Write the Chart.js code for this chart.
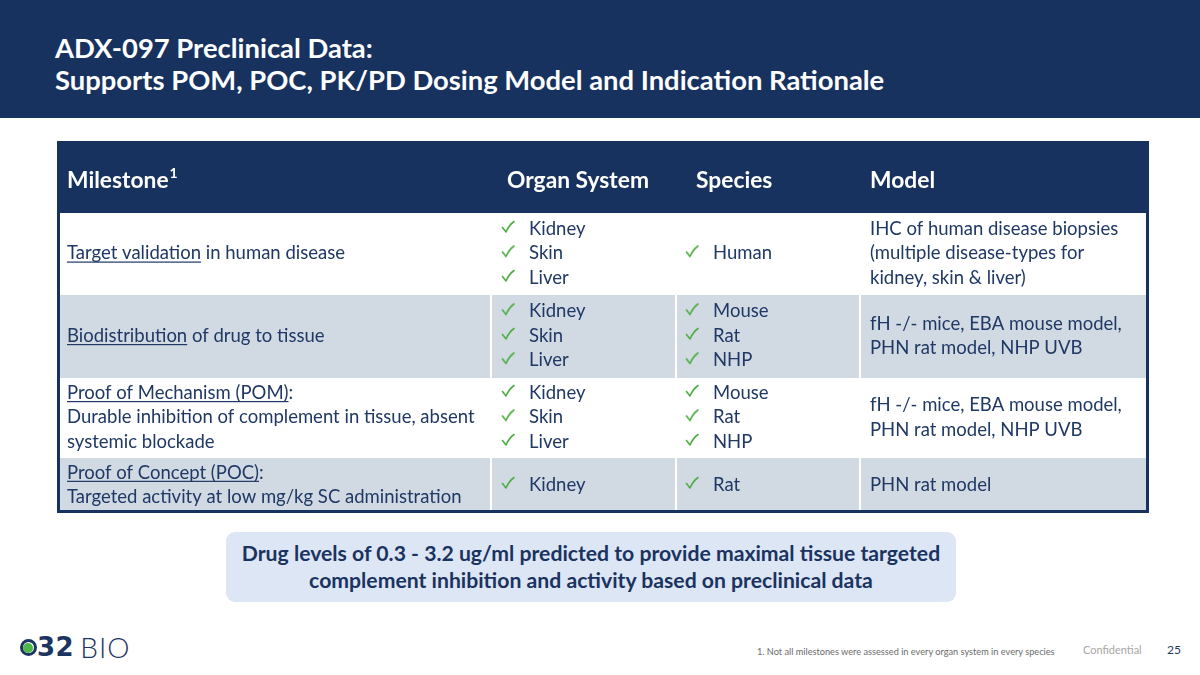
<!DOCTYPE html>
<html>
<head>
<meta charset="utf-8">
<script src="https://cdn.jsdelivr.net/npm/chart.js@4.4.1/dist/chart.umd.min.js"></script>
<style>
html, body { margin: 0; padding: 0; }
body { width: 1200px; height: 675px; position: relative; overflow: hidden; background: #fff; font-family: Lato, 'Open Sans', sans-serif; color: #1f3864; }
#bar { position: absolute; left: 0; top: 0; width: 1200px; height: 118px; background: #17325f; }
#title { position: absolute; left: 55px; top: 32px; color: #fff; font-weight: 700; font-size: 27.4px; line-height: 32px; white-space: nowrap; }
#wrap { position: absolute; left: 57px; top: 141px; width: 1092px; height: 372px; }
#callout { position: absolute; left: 226px; top: 532px; width: 730px; height: 70px; background: #dde6f5; border-radius: 9px; display: flex; align-items: center; justify-content: center; text-align: center; font-weight: 700; font-size: 21.2px; line-height: 27px; color: #1a3360; white-space: nowrap; }
#logo { position: absolute; left: 20px; top: 633px; height: 28px; display: flex; align-items: center; color: #1b3461; }
#q { width: 11px; height: 11px; border: 3.5px solid #1b3461; border-radius: 50%; position: relative; }
#q::after { content: ''; position: absolute; left: 0px; top: 1px; width: 10px; height: 10px; border-radius: 50%; background: #4db848; }
#n32 { font-family: 'DejaVu Sans', sans-serif; font-weight: 700; font-size: 26px; letter-spacing: 0.5px; margin-left: 0px; }
#bio { font-weight: 300; font-size: 28px; letter-spacing: 1px; margin-left: 6px; }
#note { position: absolute; left: 757px; top: 646px; font-size: 9.2px; color: #6b6b6b; white-space: nowrap; }
#conf { position: absolute; left: 1083px; top: 643px; font-size: 11px; color: #a6a6a6; }
#page { position: absolute; left: 1167px; top: 642px; font-size: 12px; color: #1f3864; }
</style>
</head>
<body>
<div id="bar"></div>
<div id="title">ADX-097 Preclinical Data:<br>Supports POM, POC, PK/PD Dosing Model and Indication Rationale</div>
<div id="wrap"><canvas id="tbl"></canvas></div>
<div id="callout">Drug levels of 0.3 - 3.2 ug/ml predicted to provide maximal tissue targeted<br>complement inhibition and activity based on preclinical data</div>
<div id="logo"><div id="q"></div><span id="n32">32</span><span id="bio">BIO</span></div>
<div id="note">1. Not all milestones were assessed in every organ system in every species</div>
<div id="conf">Confidential</div>
<div id="page">25</div>
<script>
// table content
const headers        = ['Milestone', 'Organ System', 'Species', 'Model'];
const milestoneLinks = ['Target validation', 'Biodistribution', 'Proof of Mechanism (POM)', 'Proof of Concept (POC)'];
const milestoneTails = [' in human disease', ' of drug to tissue', ':', ':'];
const milestoneNotes = [
    [],
    [],
    ['Durable inhibition of complement in tissue, absent', 'systemic blockade'],
    ['Targeted activity at low mg/kg SC administration'],
];
const organs  = [['Kidney', 'Skin', 'Liver'], ['Kidney', 'Skin', 'Liver'], ['Kidney', 'Skin', 'Liver'], ['Kidney']];
const species = [['Human'], ['Mouse', 'Rat', 'NHP'], ['Mouse', 'Rat', 'NHP'], ['Rat']];
const models  = [
    ['IHC of human disease biopsies', '(multiple disease-types for', 'kidney, skin & liver)'],
    ['fH -/- mice, EBA mouse model,', 'PHN rat model, NHP UVB'],
    ['fH -/- mice, EBA mouse model,', 'PHN rat model, NHP UVB'],
    ['PHN rat model'],
];

// layout (table units = px inside the table)
const COL_EDGES = [0, 434, 619, 803, 1092];
const ROW_EDGES = [0, 72, 154, 237, 317, 372];
const LINE_H    = 24.5;
const NAVY  = '#17325f';
const INK   = '#1f3864';
const GRAY  = '#d1d9e3';
const GREEN = '#4fae45';
const FONT  = "Lato, 'Open Sans', sans-serif";

const rowMid = r => (ROW_EDGES[r + 1] + ROW_EDGES[r + 2]) / 2 - 0.5;
const lineY  = (r, i, n) => rowMid(r) + (i - (n - 1) / 2) * LINE_H;

// check mark sprite used as the point style
const checkImg = document.createElement('canvas');
checkImg.width = 14; checkImg.height = 14;
(() => {
    const c = checkImg.getContext('2d');
    c.strokeStyle = GREEN;
    c.lineWidth = 1.6;
    c.lineCap = 'round';
    c.lineJoin = 'round';
    c.beginPath();
    c.moveTo(1.5, 7.5);
    c.lineTo(5, 12);
    c.quadraticCurveTo(8, 5, 13, 1.5);
    c.stroke();
})();

const checks = [];
organs.forEach((list, r) => list.forEach((_, i) => checks.push({ x: COL_EDGES[1] + 17, y: lineY(r, i, list.length) - 2 })));
species.forEach((list, r) => list.forEach((_, i) => checks.push({ x: COL_EDGES[2] + 16, y: lineY(r, i, list.length) - 2 })));

const tablePlugin = {
    id: 'tablePlugin',
    beforeDatasetsDraw(chart) {
        const { ctx, scales: { x, y } } = chart;
        const px = v => x.getPixelForValue(v);
        const py = v => y.getPixelForValue(v);
        ctx.save();
        ROW_EDGES.slice(0, -1).forEach((top, r) => {
            ctx.fillStyle = r === 0 ? NAVY : (r % 2 === 0 ? GRAY : '#ffffff');
            ctx.fillRect(px(0), py(top), px(COL_EDGES[4]) - px(0), py(ROW_EDGES[r + 1]) - py(top));
        });
        ctx.fillStyle = '#ffffff';
        COL_EDGES.slice(1, -1).forEach(c => {
            ctx.fillRect(px(c) - 1, py(ROW_EDGES[1]), 2, py(ROW_EDGES[5]) - py(ROW_EDGES[1]));
        });
        ctx.restore();
    },
    afterDatasetsDraw(chart) {
        const { ctx, scales: { x, y } } = chart;
        const px = v => x.getPixelForValue(v);
        const py = v => y.getPixelForValue(v);
        ctx.save();
        ctx.textBaseline = 'middle';

        // header
        ctx.fillStyle = '#ffffff';
        ctx.font = `700 22.8px ${FONT}`;
        const hx = [10, COL_EDGES[1] + 16, COL_EDGES[2] + 20, COL_EDGES[3] + 10];
        const hy = py(39.5);
        headers.forEach((h, i) => ctx.fillText(h, px(hx[i]), hy));
        const mw = ctx.measureText(headers[0]).width;
        ctx.font = `700 14px ${FONT}`;
        ctx.fillText('1', px(hx[0]) + mw + 1, hy - 7);

        // body
        ctx.fillStyle = INK;
        ctx.font = `18.5px ${FONT}`;
        milestoneLinks.forEach((link, r) => {
            const n = 1 + milestoneNotes[r].length;
            const x0 = px(10);
            const yy = py(lineY(r, 0, n));
            const lw = ctx.measureText(link).width;
            ctx.fillText(link, x0, yy);
            ctx.fillRect(x0, yy + 8, lw, 1.2);
            ctx.fillText(milestoneTails[r], x0 + lw, yy);
            milestoneNotes[r].forEach((t, i) => ctx.fillText(t, x0, py(lineY(r, i + 1, n))));
        });
        organs.forEach((list, r) => list.forEach((t, i) => ctx.fillText(t, px(COL_EDGES[1] + 38), py(lineY(r, i, list.length)))));
        species.forEach((list, r) => list.forEach((t, i) => ctx.fillText(t, px(COL_EDGES[2] + 37), py(lineY(r, i, list.length)))));
        models.forEach((list, r) => list.forEach((t, i) => ctx.fillText(t, px(COL_EDGES[3] + 10), py(lineY(r, i, list.length)))));

        // outer border
        ctx.strokeStyle = NAVY;
        ctx.lineWidth = 3;
        ctx.strokeRect(px(0) + 1.5, py(0) + 1.5, px(COL_EDGES[4]) - px(0) - 3, py(ROW_EDGES[5]) - py(0) - 3);
        ctx.restore();
    }
};

new Chart(document.getElementById('tbl'), {
    type: 'scatter',
    data: {
        datasets: [{
            data: checks,
            pointStyle: checkImg,
            pointRadius: 7,
        }]
    },
    plugins: [tablePlugin],
    options: {
        responsive: true,
        maintainAspectRatio: false,
        animation: false,
        layout: { padding: 0, autoPadding: false },
        plugins: {
            legend: { display: false },
            tooltip: { enabled: false },
        },
        scales: {
            x: { type: 'linear', min: 0, max: COL_EDGES[4], display: false },
            y: { type: 'linear', min: 0, max: ROW_EDGES[5], reverse: true, display: false },
        },
    }
});
</script>
</body>
</html>
